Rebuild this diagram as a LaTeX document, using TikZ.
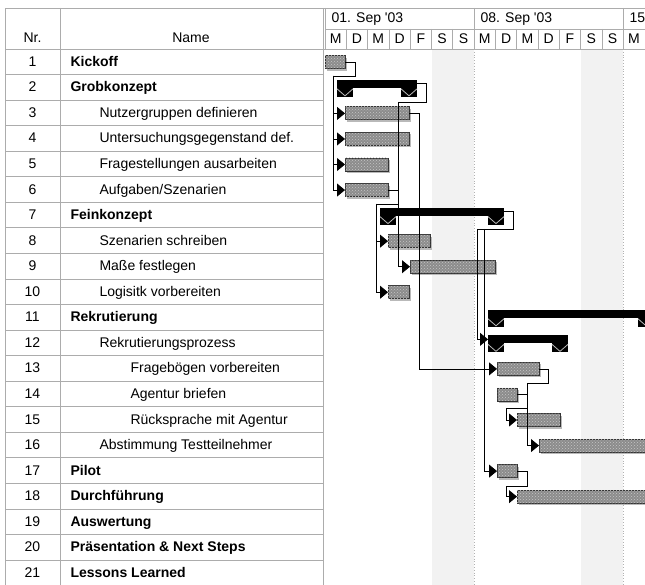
\documentclass[tikz,border=0pt]{standalone}
\usepackage{fontspec}
\setmainfont{Liberation Sans}
\usetikzlibrary{arrows.meta,patterns,shadows}

\tikzset{
    grid line/.style={draw=gray!65, line width=0.8pt},
    taskbar/.style={draw=black!80, line width=0.9pt, fill=black!45,
        postaction={pattern=crosshatch dots, pattern color=gray!45},
        drop shadow={shadow xshift=2pt, shadow yshift=-2pt, fill=gray!55, opacity=1},
        minimum height=13pt, inner sep=0pt, outer sep=0pt, anchor=west},
    sumbar/.style={fill=black, minimum height=8pt, inner sep=0pt, outer sep=0pt, anchor=west},
    dep/.style={draw=black, line width=0.8pt},
    deparrow/.style={dep, -{Triangle[length=8pt,width=13pt]}},
}

% #1 name, #2 row, #3 start, #4 end
\newcommand{\taskbar}[4]{\node[taskbar, minimum width={#4-#3}] (#1) at ({#3},{61.3+(#2-1)*25.55+1}) {};}
\newcommand{\summarybar}[4]{%
    \node[sumbar, minimum width={#4-#3}] (#1) at ({#3},{61.3+(#2-1)*25.55-3}) {};
    \fill (#1.north west) rectangle ++(16,17);
    \fill (#1.north east) rectangle ++(-16,17);
    \draw[gray!55, line width=0.8pt] ([yshift=-9pt]#1.north west) -- ++(8,7) -- ++(8,-7);
    \draw[gray!55, line width=0.8pt] ([yshift=-9pt]#1.north east) -- ++(-8,7) -- ++(-8,-7);}

\begin{document}
\begin{tikzpicture}[x=1pt, y=-1pt, font=\fontsize{14}{16}\selectfont]
    \clip (0,0) rectangle (645,585);
    \fill[white] (0,0) rectangle (645,585);

    % weekends
    \fill[gray!10] (431.6,49) rectangle (474,585);
    \fill[gray!10] (580.7,49) rectangle (623,585);
    \draw[gray!60, dotted, line width=0.8pt] (474,49) -- (474,585);
    \draw[gray!60, dotted, line width=0.8pt] (623,49) -- (623,585);

    % table
    \draw[grid line] (5,585) -- (5,8) -- (645,8);
    \draw[grid line] (60,8) -- (60,585);
    \draw[grid line] (323,8) -- (323,585);
    \draw[grid line] (325.5,8) -- (325.5,49);
    \draw[grid line] (5,49) -- (645,49);
    \draw[grid line] (325.5,29) -- (645,29);
    \draw[grid line] (474,8) -- (474,49);
    \draw[grid line] (623,8) -- (623,49);
    \foreach \d in {1,...,14}
        \draw[grid line] ({325+\d*21.3},29) -- ({325+\d*21.3},49);
    \foreach \i in {1,...,20}
        \draw[grid line] (5,{49+\i*25.55}) -- (323,{49+\i*25.55});

    \node[anchor=base] (hnr) at (32.5,43) {Nr.};
    \node[anchor=base] (hname) at (191,43) {Name};
    \node[anchor=base west] (week1) at (328,23) {01. Sep \textquotesingle 03};
    \node[anchor=base west] (week2) at (477,23) {08. Sep \textquotesingle 03};
    \node[anchor=base west] (week3) at (626,23) {15};
    \foreach \l [count=\k from 0] in {M,D,M,D,F,S,S,M,D,M,D,F,S,S,M}
        \node[anchor=base] (day\k) at ({325+(\k+0.5)*21.3},44) {\l};

    \foreach \i/\x/\f/\txt in {1/67/\bfseries/Kickoff, 2/67/\bfseries/Grobkonzept,
        3/96/\mdseries/Nutzergruppen definieren, 4/96/\mdseries/Untersuchungsgegenstand def.,
        5/96/\mdseries/Fragestellungen ausarbeiten, 6/96/\mdseries/{Aufgaben/Szenarien},
        7/67/\bfseries/Feinkonzept, 8/96/\mdseries/Szenarien schreiben,
        9/96/\mdseries/Maße festlegen, 10/96/\mdseries/Logisitk vorbereiten,
        11/67/\bfseries/Rekrutierung, 12/96/\mdseries/Rekrutierungsprozess,
        13/127/\mdseries/Fragebögen vorbereiten, 14/127/\mdseries/Agentur briefen,
        15/127/\mdseries/Rücksprache mit Agentur, 16/96/\mdseries/Abstimmung Testteilnehmer,
        17/67/\bfseries/Pilot, 18/67/\bfseries/Durchführung, 19/67/\bfseries/Auswertung,
        20/67/\bfseries/Präsentation \& Next Steps, 21/67/\bfseries/Lessons Learned} {
        \node[anchor=base] (nr\i) at (32.5,{61.3+(\i-1)*25.55+5}) {\i};
        \node[anchor=base west] (name\i) at (\x,{61.3+(\i-1)*25.55+5}) {\f\txt};
    }

    % bars
    \taskbar{b1}{1}{325}{345}
    \summarybar{s2}{2}{337}{417}
    \taskbar{b3}{3}{345}{409}
    \taskbar{b4}{4}{345}{409}
    \taskbar{b5}{5}{345}{388}
    \taskbar{b6}{6}{345}{388}
    \summarybar{s7}{7}{380}{504}
    \taskbar{b8}{8}{388}{430}
    \taskbar{b9}{9}{410}{495}
    \taskbar{b10}{10}{388}{409}
    \summarybar{s11}{11}{488}{654}
    \summarybar{s12}{12}{488}{568}
    \taskbar{b13}{13}{497}{539}
    \taskbar{b14}{14}{497}{517}
    \taskbar{b15}{15}{517}{560}
    \taskbar{b16}{16}{539}{660}
    \taskbar{b17}{17}{497}{517}
    \taskbar{b18}{18}{517}{660}

    % links
    \coordinate (j1) at (333,76);
    \draw[dep] (b1.east) -- ++(10,0) |- (j1);
    \foreach \t in {b3,b4,b5,b6}
        \draw[deparrow] (j1) |- (\t.west);
    \coordinate (j2) at (398,102);
    \draw[dep] (s2.east) -- ++(9,0) |- (j2);
    \draw[deparrow] (j2) |- (b9.west);
    \draw[dep] (b6.east) -- (j2 |- b6.east);
    \coordinate (j3) at (376,204);
    \draw[dep] (j2 |- j3) -- (j3);
    \draw[deparrow] (j3) |- (b8.west);
    \draw[deparrow] (j3) |- (b10.west);
    \draw[deparrow] (b3.east) -- ++(10,0) |- (b13.west);
    \coordinate (j4) at (477,229);
    \coordinate (j5) at (484,229);
    \draw[dep] (s7.east) -- ++(9,0) |- (j4);
    \draw[deparrow] (j4) |- (s12.west);
    \draw[deparrow] (j5) |- (b17.west);
    \coordinate (j6) at (527,383);
    \draw[dep] (b13.east) -- ++(9,0) |- (j6);
    \draw[deparrow] (j6) |- (b16.west);
    \draw[dep] (b14.east) -- (j6 |- b14.east);
    \coordinate (j7) at (506,408);
    \draw[dep] (j6 |- j7) -- (j7);
    \draw[deparrow] (j7) |- (b15.west);
    \coordinate (j8) at (506,486);
    \draw[dep] (b17.east) -- ++(10,0) |- (j8);
    \draw[deparrow] (j8) |- (b18.west);

\end{tikzpicture}
\end{document}
